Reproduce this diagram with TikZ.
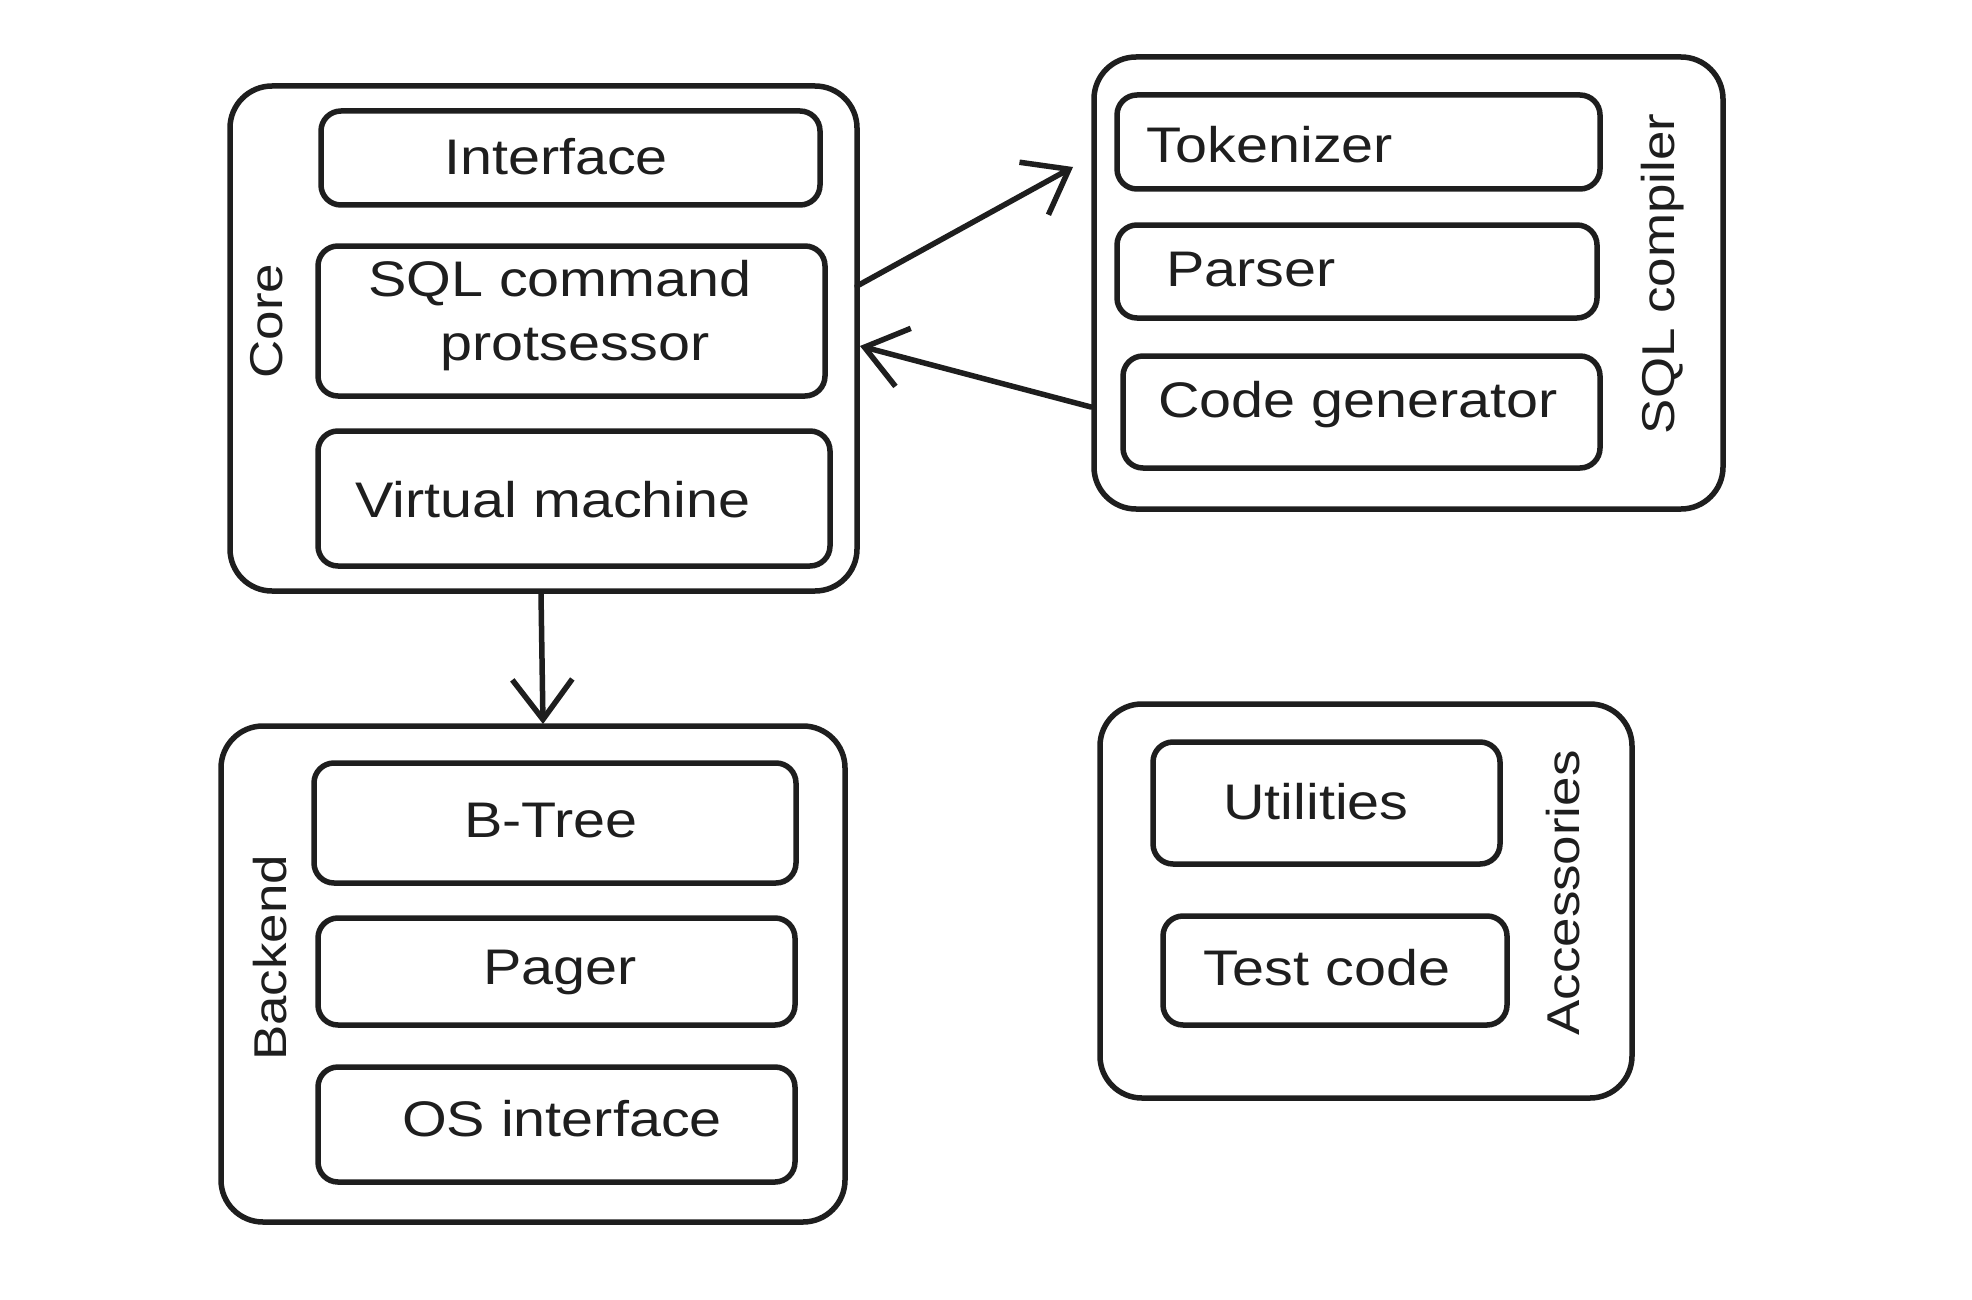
\documentclass[tikz,border=0pt]{standalone}
\usepackage{fontspec}
\setmainfont{Liberation Sans}[FakeStretch=1.15]
\usetikzlibrary{arrows.meta}
\definecolor{ink}{HTML}{1E1E1E}
\tikzset{
  outerbox/.style={draw=ink, line width=5.5pt, rounded corners=42pt},
  innerbox/.style={draw=ink, line width=5.5pt, rounded corners=20pt},
  lbl/.style={text=ink, font=\fontsize{50}{64}\selectfont, inner sep=0pt},
  vlbl/.style={text=ink, font=\fontsize{46}{58}\selectfont, inner sep=0pt, rotate=90},
  conn/.style={draw=ink, line width=5.5pt, line cap=round, -{Straight Barb[length=40pt, width=60pt, line width=5.5pt]}},
}
\begin{document}
\begin{tikzpicture}[x=1pt, y=-1pt]
\useasboundingbox[fill=white] (0,0) rectangle (1972,1300);
% Core
\draw[outerbox] (230,86) rectangle (857,591);
\draw[innerbox] (321,111) rectangle (820,205);
\draw[innerbox] (318,246) rectangle (825,396);
\draw[innerbox] (318,431) rectangle (830,566);
\node[lbl] (tInterface) at (556,157) {Interface};
\node[lbl, align=center] (tSql) at (560,316) {SQL command\\\hspace*{30pt}protsessor};
\node[lbl] (tVm) at (553,500) {Virtual machine};
\node[vlbl] (tCore) at (267,321) {Core};
\coordinate (coreR1) at (857,286);
\coordinate (coreR2) at (860,346);
\coordinate (coreB) at (541,594);
% SQL compiler
\draw[outerbox] (1094,57) rectangle (1723,509);
\draw[innerbox] (1117,95) rectangle (1600,189);
\draw[innerbox] (1117,225) rectangle (1597,318);
\draw[innerbox] (1123,356) rectangle (1600,468);
\node[lbl] (tTok) at (1270,145) {Tokenizer};
\node[lbl] (tPar) at (1251,270) {Parser};
\node[lbl] (tCg) at (1358,405) {Code generator};
\node[vlbl] (tSqlc) at (1663,274) {SQL compiler};
\coordinate (sqlL1) at (1073,167);
\coordinate (sqlL2) at (1091,407);
% Backend
\draw[outerbox] (221,726) rectangle (845,1222);
\draw[innerbox] (314,763) rectangle (796,883);
\draw[innerbox] (318,918) rectangle (795,1025);
\draw[innerbox] (318,1067) rectangle (795,1182);
\node[lbl] (tBt) at (551,821) {B-Tree};
\node[lbl] (tPg) at (560,972) {Pager};
\node[lbl] (tOs) at (562,1119) {OS interface};
\node[vlbl] (tBe) at (270,958) {Backend};
\coordinate (beT) at (543,724);
% Accessories
\draw[outerbox] (1100,704) rectangle (1632,1098);
\draw[innerbox] (1153,742) rectangle (1500,864);
\draw[innerbox] (1163,916) rectangle (1507,1025);
\node[lbl] (tUt) at (1316,802) {Utilities};
\node[lbl] (tTc) at (1327,968) {Test code};
\node[vlbl] (tAcc) at (1563,893) {Accessories};
% connectors
\draw[conn] (coreR1) -- (sqlL1);
\draw[conn] (sqlL2) -- (coreR2);
\draw[conn] (coreB) -- (beT);
\end{tikzpicture}
\end{document}
